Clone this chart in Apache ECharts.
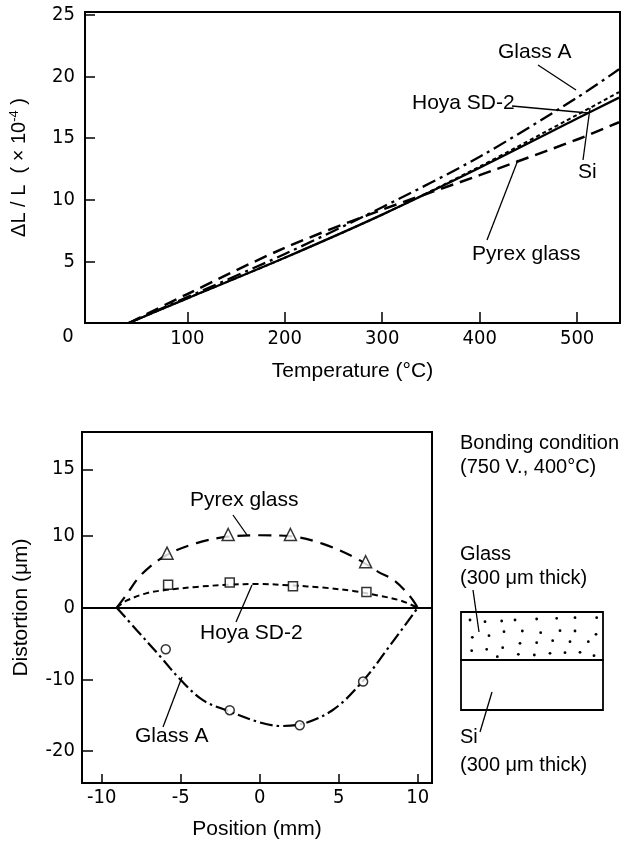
<!DOCTYPE html>
<html><head><meta charset="utf-8">
<script src="https://cdn.jsdelivr.net/npm/echarts@6/dist/echarts.min.js"></script>
<style>html,body{margin:0;padding:0;background:#fff}#c{width:630px;height:841px}</style>
</head><body><div id="c"></div>
<script>
// ---------- Top chart: thermal expansion dL/L (x1e-4) vs temperature ----------
const temps      = [40, 100, 200, 300, 400, 500, 543];
const glassA_dL  = [0, 2.1, 5.6, 9.4, 13.5, 18.3, 20.6];
const hoya_dL    = [0, 2.0, 5.3, 8.8, 12.7, 16.9, 18.75];
const si_dL      = [0, 2.0, 5.3, 8.8, 12.6, 16.6, 18.3];
const pyrex_dL   = [0, 2.35, 6.1, 9.2, 12.0, 14.9, 16.3];
const tempTicks  = [100, 200, 300, 400, 500];
const dLTicks    = [5, 10, 15, 20, 25];

// ---------- Bottom chart: distortion vs position ----------
const pyrexCurveX  = [-9.05, -8.5, -7.5, -6, -4, -2, 0, 2, 4, 6, 7.5, 8.5, 9.5, 10];
const pyrexCurveY  = [0, 1.6, 4.6, 7.2, 9.0, 9.9, 10.1, 9.95, 8.9, 7.0, 5.0, 3.8, 1.6, 0];
const hoyaCurveX   = [-9.05, -8.5, -7.2, -6, -4, -2, 0, 2, 4, 6, 7.5, 8.9, 10];
const hoyaCurveY   = [0, 0.9, 2.0, 2.45, 2.9, 3.2, 3.3, 3.1, 2.8, 2.3, 1.7, 1.0, 0];
const glassACurveX = [-9.05, -7.8, -6.3, -5, -3.6, -2, 0, 1.3, 2.5, 4.6, 6.5, 8.2, 10];
const glassACurveY = [0, -3.1, -6.8, -10.1, -12.9, -14.4, -16.0, -16.5, -16.3, -14.3, -10.3, -5.4, 0];
const pyrexPtsX  = [-5.87, -2.0, 1.94, 6.7];
const pyrexPtsY  = [7.6, 10.2, 10.2, 6.4];
const hoyaPtsX   = [-5.8, -1.9, 2.1, 6.75];
const hoyaPtsY   = [3.2, 3.5, 3.0, 2.2];
const glassAPtsX = [-5.95, -1.9, 2.53, 6.54];
const glassAPtsY = [-5.8, -14.3, -16.4, -10.3];
const posTicks   = [-10, -5, 0, 5, 10];
// tick labels of the distortion axis; the reference prints "15" at the height of ~19.3
const distTickLabels = ['-20', '-10', '0', '10', '15'];
const distTickAt     = [-20, -10, 0, 10, 19.3];

const zip = (a, b) => a.map((v, i) => [v, b[i]]);
const NUM = "'Liberation Sans Narrow','DejaVu Sans Condensed','Liberation Sans',sans-serif";
const TXT = "'Liberation Sans',sans-serif";
const K = '#000';

const chart = echarts.init(document.getElementById('c'), null, {renderer: 'canvas'});

function txt(x, y, s, size) {
  return {type: 'text', x: x, y: y, style: {text: s, fill: K, font: (size || 21) + 'px ' + TXT, align: 'left', verticalAlign: 'middle'}};
}
function seg(x1, y1, x2, y2) {
  return {type: 'line', shape: {x1, y1, x2, y2}, style: {stroke: K, lineWidth: 1.3}};
}
// dots decorating the glass layer in the schematic (pixel positions, decoration only)
const dotsZ = [[90,600],[135,605],[185,603],[225,600],[290,597],[350,595],[405,593],[470,593],
  [97,652],[147,647],[192,635],[247,633],[302,638],[360,632],[405,633],[468,643],
  [95,692],[140,688],[188,683],[240,670],[290,668],[338,662],[390,665],[445,665],
  [172,710],[235,703],[283,705],[330,700],[375,698],[420,697],[462,707]];
const dots = dotsZ.map(p => ({type: 'circle', shape: {cx: 440 + p[0] / 3, cy: 420 + p[1] / 3, r: 1.4}, style: {fill: K}}));

const axisCommon = {
  axisLine: {show: true, onZero: false, lineStyle: {color: K, width: 2}},
  splitLine: {show: false},
};

chart.setOption({
  backgroundColor: '#fff',
  animation: false,
  grid: [
    {left: 82, top: 12, width: 538, height: 311, show: true, borderColor: K, borderWidth: 2, backgroundColor: 'transparent'},
    {left: 82, top: 432, width: 350, height: 351, show: true, borderColor: K, borderWidth: 2, backgroundColor: 'transparent'}
  ],
  xAxis: [
    Object.assign({type: 'value', gridIndex: 0, min: -5, max: 544,
      axisTick: {show: true, inside: true, length: 11, customValues: tempTicks, lineStyle: {color: K, width: 1.5}},
      axisLabel: {customValues: tempTicks, color: K, fontSize: 20, fontFamily: NUM, margin: 6},
      name: 'Temperature (°C)', nameLocation: 'middle', nameGap: 38,
      nameTextStyle: {color: K, fontSize: 21, fontFamily: TXT}}, axisCommon),
    Object.assign({type: 'value', gridIndex: 1, min: -11.25, max: 10.9,
      axisTick: {show: true, inside: true, length: 9, customValues: posTicks, lineStyle: {color: K, width: 1.5}},
      axisLabel: {customValues: posTicks, color: K, fontSize: 20, fontFamily: NUM, margin: 5},
      name: 'Position (mm)', nameLocation: 'middle', nameGap: 36,
      nameTextStyle: {color: K, fontSize: 21, fontFamily: TXT}}, axisCommon)
  ],
  yAxis: [
    Object.assign({type: 'value', gridIndex: 0, min: 0, max: 25.25,
      axisTick: {show: true, inside: true, length: 10, customValues: dLTicks, lineStyle: {color: K, width: 1.5}},
      axisLabel: {customValues: dLTicks, color: K, fontSize: 20, fontFamily: NUM, margin: 10},
      name: '{a|ΔL / L  ( × 10}{s|-4}{a| )}', nameLocation: 'middle', nameGap: 54, nameRotate: 90,
      nameTextStyle: {color: K, rich: {a: {fontSize: 20, fontFamily: TXT, color: K}, s: {fontSize: 13, fontFamily: TXT, color: K, verticalAlign: 'top', padding: [0, 0, 10, 0]}}}}, axisCommon),
    Object.assign({type: 'value', gridIndex: 1, min: -24.45, max: 24.5,
      axisTick: {show: true, inside: true, length: 11, customValues: distTickAt, lineStyle: {color: K, width: 1.5}},
      axisLabel: {customValues: distTickAt, color: K, fontSize: 20, fontFamily: NUM, margin: 7,
        formatter: v => distTickLabels[distTickAt.indexOf(v)]},
      name: 'Distortion (μm)', nameLocation: 'middle', nameGap: 50, nameRotate: 90,
      nameTextStyle: {color: K, fontSize: 21, fontFamily: TXT}}, axisCommon)
  ],
  series: [
    {type: 'line', name: 'Glass A', xAxisIndex: 0, yAxisIndex: 0, data: zip(temps, glassA_dL), smooth: 0.3, showSymbol: false,
      lineStyle: {color: K, width: 2.3, type: [14, 5, 3, 5]}},
    {type: 'line', name: 'Hoya SD-2', xAxisIndex: 0, yAxisIndex: 0, data: zip(temps, hoya_dL), smooth: 0.3, showSymbol: false,
      lineStyle: {color: K, width: 2, type: [4, 3]}},
    {type: 'line', name: 'Si', xAxisIndex: 0, yAxisIndex: 0, data: zip(temps, si_dL), smooth: 0.3, showSymbol: false,
      lineStyle: {color: K, width: 2.3, type: 'solid'}},
    {type: 'line', name: 'Pyrex glass', xAxisIndex: 0, yAxisIndex: 0, data: zip(temps, pyrex_dL), smooth: 0.3, showSymbol: false,
      lineStyle: {color: K, width: 2.5, type: [13, 7]}},

    {type: 'line', name: 'Pyrex curve', xAxisIndex: 1, yAxisIndex: 1, data: zip(pyrexCurveX, pyrexCurveY), smooth: 0.35, showSymbol: false,
      lineStyle: {color: K, width: 2.2, type: [13, 8]},
      markLine: {silent: true, symbol: 'none', label: {show: false}, lineStyle: {color: K, width: 2, type: 'solid'}, data: [{yAxis: 0}]}},
    {type: 'line', name: 'Hoya curve', xAxisIndex: 1, yAxisIndex: 1, data: zip(hoyaCurveX, hoyaCurveY), smooth: 0.35, showSymbol: false,
      lineStyle: {color: K, width: 2, type: [6, 4]}},
    {type: 'line', name: 'Glass A curve', xAxisIndex: 1, yAxisIndex: 1, data: zip(glassACurveX, glassACurveY), smooth: 0.35, showSymbol: false,
      lineStyle: {color: K, width: 2.2, type: [13, 4, 2.5, 4]}},
    {type: 'scatter', name: 'Pyrex pts', xAxisIndex: 1, yAxisIndex: 1, data: zip(pyrexPtsX, pyrexPtsY), symbol: 'triangle', symbolSize: 12,
      itemStyle: {color: '#fff', borderColor: K, borderWidth: 1.5}, z: 5},
    {type: 'scatter', name: 'Hoya pts', xAxisIndex: 1, yAxisIndex: 1, data: zip(hoyaPtsX, hoyaPtsY), symbol: 'rect', symbolSize: 9,
      itemStyle: {color: '#fff', borderColor: K, borderWidth: 1.5}, z: 5},
    {type: 'scatter', name: 'Glass A pts', xAxisIndex: 1, yAxisIndex: 1, data: zip(glassAPtsX, glassAPtsY), symbol: 'circle', symbolSize: 9,
      itemStyle: {color: '#fff', borderColor: K, borderWidth: 1.5}, z: 5}
  ],
  graphic: [
    {type: 'text', x: 68, y: 337, style: {text: '0', fill: K, font: '20px ' + NUM, align: 'center', verticalAlign: 'middle'}},
    txt(498, 52, 'Glass A'), seg(538, 65, 576, 90),
    txt(412, 103, 'Hoya SD-2'), seg(512, 106, 588, 113),
    txt(578, 172, 'Si'), seg(583, 160, 590, 108),
    txt(472, 254, 'Pyrex glass'), seg(487, 240, 518, 160),

    txt(190, 500, 'Pyrex glass'), seg(233, 515, 247, 535),
    txt(200, 633, 'Hoya SD-2'), seg(236, 622, 252, 585),
    txt(135, 736, 'Glass A'), seg(163, 727, 182, 677),

    txt(460, 443, 'Bonding condition', 20),
    txt(460, 467, '(750 V., 400°C)', 20),
    txt(460, 554, 'Glass', 20),
    txt(460, 578, '(300 μm thick)', 20),
    {type: 'rect', shape: {x: 461, y: 612, width: 142, height: 48}, style: {fill: 'none', stroke: K, lineWidth: 1.8}},
    {type: 'rect', shape: {x: 461, y: 660, width: 142, height: 50}, style: {fill: 'none', stroke: K, lineWidth: 1.8}},
    seg(473, 590, 479, 632),
    seg(492, 692, 480, 732),
    txt(460, 737, 'Si', 20),
    txt(460, 765, '(300 μm thick)', 20)
  ].concat(dots)
});
</script></body></html>
